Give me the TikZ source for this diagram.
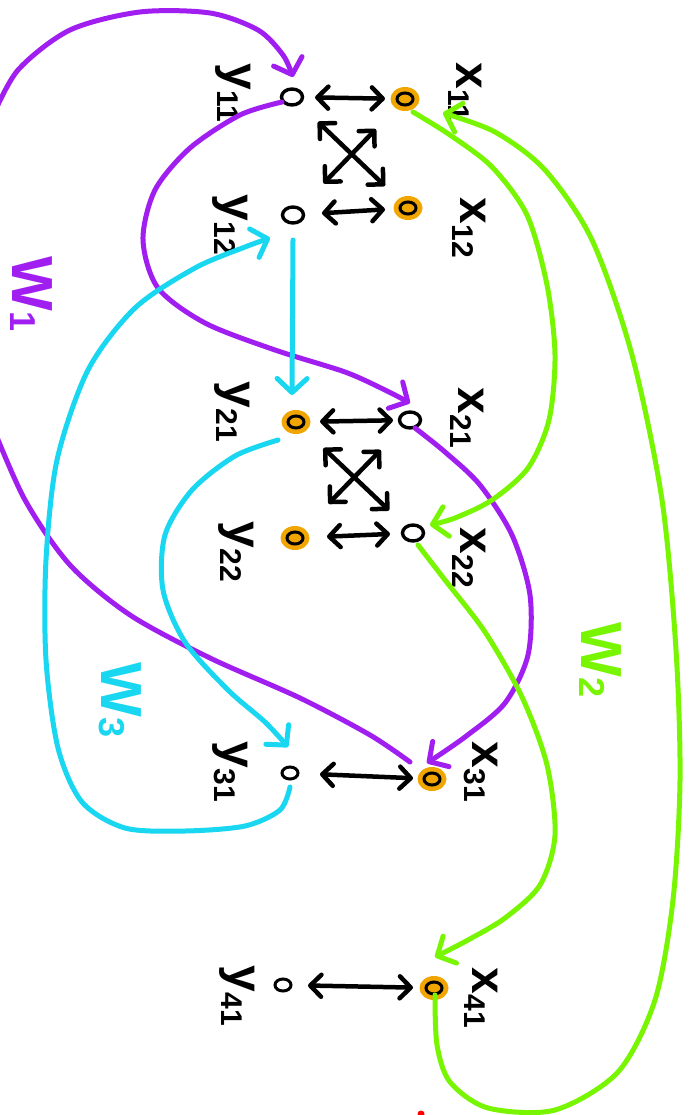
\documentclass[tikz,border=0pt]{standalone}
\usepackage{fontspec}
\setmainfont{Liberation Sans}
\usetikzlibrary{arrows.meta,shapes.geometric,calc}
\definecolor{dotorange}{RGB}{240,165,0}
\definecolor{wpurple}{RGB}{160,30,240}
\definecolor{wcyan}{RGB}{25,215,240}
\definecolor{wgreen}{RGB}{120,245,0}
% lowered, smaller index digits
\newcommand{\lowidx}[3][30]{\raisebox{#3}{\fontsize{#1}{#1}\selectfont #2}}
\begin{document}
\begin{tikzpicture}[x=1pt,y=-1pt,
  every node/.style={inner sep=0pt},
  orangedot/.style={ellipse, fill=dotorange, minimum width=29pt, minimum height=24pt,
    path picture={\draw[line width=3pt] (path picture bounding box.center) ellipse (8pt and 6pt);}},
  opendot/.style={ellipse, draw, line width=3.4pt, minimum width=21pt, minimum height=16pt},
  smalldot/.style={ellipse, draw, line width=3pt, minimum width=16pt, minimum height=12pt},
  pairarrow/.style={line width=4.5pt, line cap=round,
    {Straight Barb[length=11pt,width=22pt,round]}-{Straight Barb[length=11pt,width=22pt,round]}},
  walk/.style={draw=#1, line width=5pt, line cap=round, line join=round},
  walktip/.style={-{Straight Barb[length=14pt,width=30pt,round]}},
  lab/.style={rotate=-90, font=\fontsize{48}{48}\selectfont\bfseries},
  wlab/.style={rotate=-90, font=\fontsize{58}{58}\selectfont\bfseries, text=#1},
]
\fill[white] (0,0) rectangle (690,1115);
\useasboundingbox (0,0) rectangle (690,1115);

% vertices
\node[orangedot] (x11) at (405,99) {};
\node[opendot]   (y11) at (292,97) {};
\node[orangedot] (x12) at (408,208) {};
\node[opendot]   (y12) at (293,215) {};
\node[opendot]   (x21) at (410,420) {};
\node[orangedot] (y21) at (296,422) {};
\node[opendot]   (x22) at (413,533) {};
\node[orangedot] (y22) at (295,538) {};
\node[orangedot] (x31) at (432,779) {};
\node[smalldot]  (y31) at (290,773) {};
\node[orangedot] (x41) at (434,988) {};
\node[smalldot]  (y41) at (283,985) {};

% vertex labels
\node[lab] (lx11) at (465,92)  {x\lowidx{11}{-8pt}};
\node[lab] (ly11) at (233,93)  {y\lowidx{11}{-8pt}};
\node[lab] (lx12) at (469,228) {x\lowidx{12}{-8pt}};
\node[lab] (ly12) at (230,225) {y\lowidx{12}{-8pt}};
\node[lab] (lx21) at (467,418) {x\lowidx{21}{-8pt}};
\node[lab] (ly21) at (232,412) {y\lowidx{21}{-8pt}};
\node[lab] (lx22) at (469,558) {x\lowidx{22}{-8pt}};
\node[lab] (ly22) at (236,552) {y\lowidx{22}{-8pt}};
\node[lab] (lx31) at (481,772) {x\lowidx{31}{-8pt}};
\node[lab] (ly31) at (230,772) {y\lowidx{31}{-8pt}};
\node[lab] (lx41) at (481,998) {x\lowidx{41}{-8pt}};
\node[lab] (ly41) at (237,996) {y\lowidx{41}{-8pt}};

% walk labels
\node[wlab=wpurple] (lw1) at (31,294)  {W\lowidx[36]{1}{-2pt}};
\node[wlab=wgreen]  (lw2) at (600,660) {W\lowidx[36]{2}{-2pt}};
\node[wlab=wcyan]   (lw3) at (120,700) {W\lowidx[36]{3}{-2pt}};

% black two-way arrows, measured from the vertex centres
\draw[pairarrow, shorten <=23pt, shorten >=20pt] (y11.center) -- (x11.center);
\draw[pairarrow, shorten <=36pt, shorten >=32pt] (y11.center) -- (x12.center);
\draw[pairarrow, shorten <=42pt, shorten >=44pt] (x11.center) -- (y12.center);
\draw[pairarrow, shorten <=29pt, shorten >=23pt] (y12.center) -- (x12.center);
\draw[pairarrow, shorten <=24pt, shorten >=17pt] (y21.center) -- (x21.center);
\draw[pairarrow, shorten <=38pt, shorten >=33pt] (y21.center) -- (x22.center);
\draw[pairarrow, shorten <=42pt, shorten >=48pt] (x21.center) -- (y22.center);
\draw[pairarrow, shorten <=32pt, shorten >=23pt] (y22.center) -- (x22.center);
\draw[pairarrow, shorten <=30pt, shorten >=19pt] (y31.center) -- (x31.center);
\draw[pairarrow, shorten <=25pt, shorten >=21pt] (y41.center) -- (x41.center);

% end points of the coloured walks
\coordinate (w1in)  at (-8,118);
\coordinate (w1out) at (-8,425);
\coordinate (p1t) at ($(y11)+(1,-20)$);
\coordinate (p2s) at ($(y11)+(-10,5)$);
\coordinate (p2t) at ($(x21)+(0,-17)$);
\coordinate (p3s) at ($(x21)+(5,8)$);
\coordinate (p3t) at ($(x31)+(-5,-16)$);
\coordinate (p4s) at ($(x31)+(-22,-17)$);
\coordinate (c1s) at ($(y12)+(0,25)$);
\coordinate (c1t) at ($(y21)+(-4,-27)$);
\coordinate (c2s) at ($(y21)+(-18,18)$);
\coordinate (c2t) at ($(y31)+(-2,-26)$);
\coordinate (c3s) at ($(y31)+(0,14)$);
\coordinate (c3t) at ($(y12)+(-23,23)$);
\coordinate (g1s) at ($(x11)+(8,13)$);
\coordinate (g1t) at ($(x22)+(17,-8)$);
\coordinate (g2s) at ($(x22)+(5,12)$);
\coordinate (g2t) at ($(x41)+(1,-31)$);
\coordinate (g3s) at ($(x41)+(1,7)$);
\coordinate (g3t) at ($(x11)+(38,14)$);

% W1 (purple)
\draw[walk=wpurple, walktip] plot[smooth] coordinates
  {(w1in) (18,70) (70,30) (140,12) (210,13) (258,30) (283,55) (p1t)};
\draw[walk=wpurple, walktip] plot[smooth] coordinates
  {(p2s) (240,115) (190,148) (155,190) (143,240) (158,288) (205,323) (275,350) (345,372) (385,390) (p2t)};
\draw[walk=wpurple, walktip] plot[smooth] coordinates
  {(p3s) (445,452) (480,485) (512,535) (530,595) (528,655) (505,703) (465,737) (p3t)};
\draw[walk=wpurple] plot[smooth] coordinates
  {(p4s) (370,735) (300,698) (210,658) (130,615) (70,565) (25,500) (w1out)};

% W3 (cyan)
\draw[walk=wcyan, walktip] (c1s) -- (c1t);
\draw[walk=wcyan, walktip] plot[smooth] coordinates
  {(c2s) (235,456) (192,490) (165,535) (163,590) (185,642) (228,690) (265,722) (c2t)};
\draw[walk=wcyan, walktip] plot[smooth] coordinates
  {(c3s) (280,810) (245,826) (185,831) (125,828) (82,802) (58,748) (46,660) (46,560) (57,460) (88,370) (135,308) (195,268) (245,247) (c3t)};

% W2 (green)
\draw[walk=wgreen, walktip] plot[smooth] coordinates
  {(g1s) (450,135) (492,167) (527,215) (547,285) (555,355) (549,420) (528,468) (492,500) (455,518) (g1t)};
\draw[walk=wgreen, walktip] plot[smooth] coordinates
  {(g2s) (445,580) (485,632) (522,697) (547,765) (555,835) (540,885) (505,918) (468,940) (g2t)};
\draw[walk=wgreen, walktip] plot[smooth] coordinates
  {(g3s) (437,1045) (450,1082) (488,1108) (555,1110) (618,1072) (655,1000) (673,900) (680,780) (676,650) (662,500) (632,355) (592,240) (545,170) (495,132) (g3t)};

% small red mark at the lower edge
\fill[red] (421,1114) circle (3.5);
\end{tikzpicture}
\end{document}
